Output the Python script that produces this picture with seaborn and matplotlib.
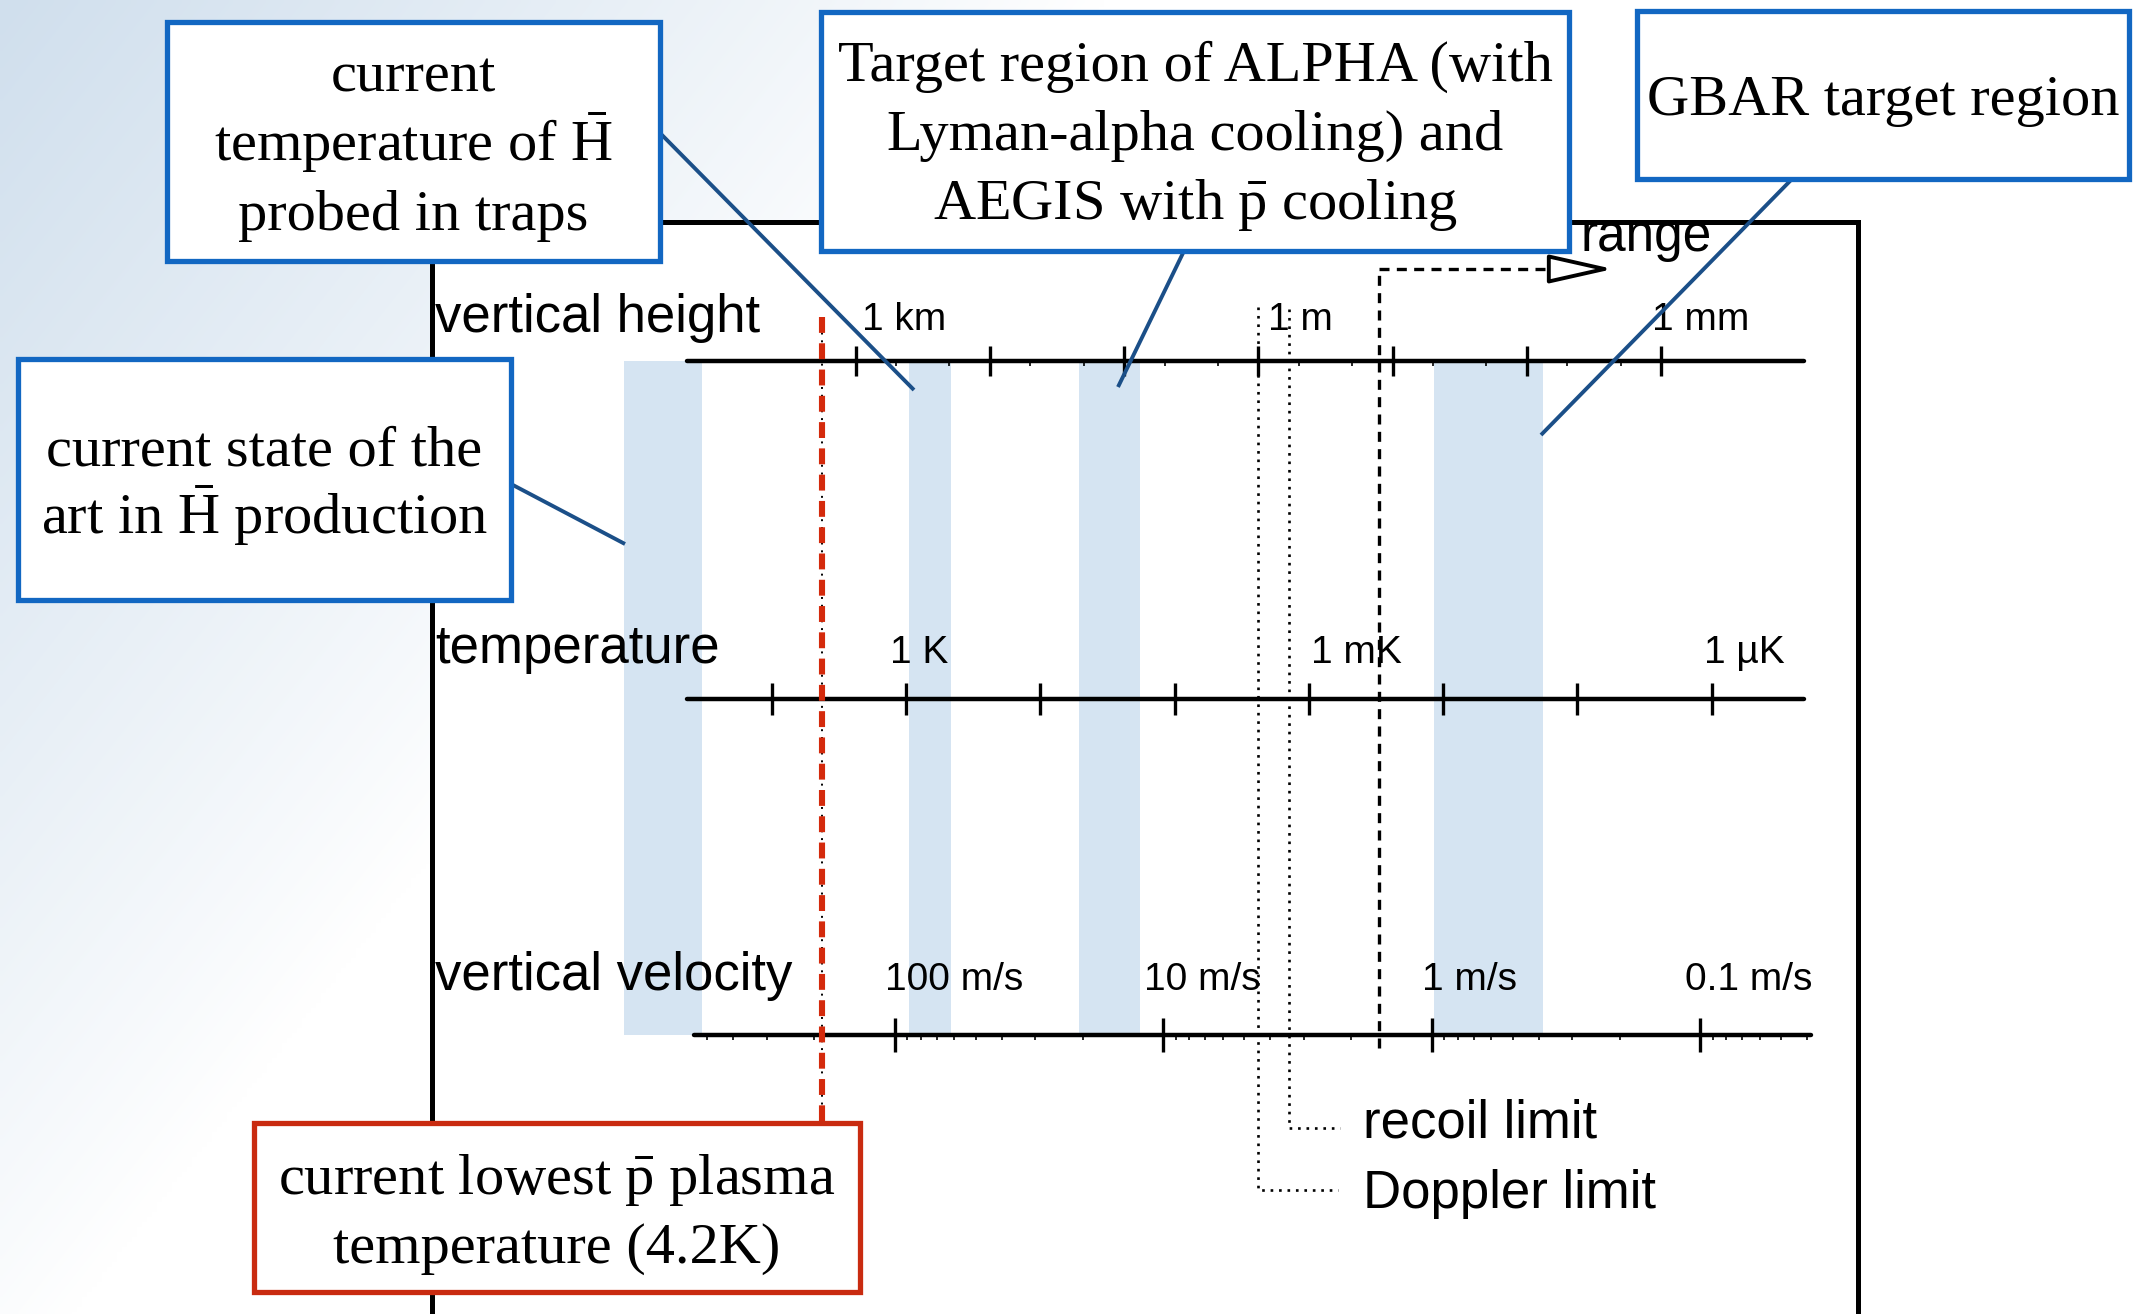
import numpy as np
import pandas as pd
import matplotlib
matplotlib.use("Agg")
import matplotlib.pyplot as plt
from matplotlib.patches import Rectangle, FancyArrowPatch
import seaborn as sns

# ---------------------------------------------------------------------------
# Physics: one horizontal axis shared by three quantities of a hydrogen atom.
# T = m v^2 / k_B   and   h = v^2 / (2 g)
# ---------------------------------------------------------------------------
M_H = 1.6735e-27      # kg
K_B = 1.380649e-23    # J/K
G_ACC = 9.81          # m/s^2

height_ticks_m = [1000, 100, 10, 1, 0.1, 0.01, 0.001]
height_tick_labels = ["1 km", "", "", "1 m", "", "", "1 mm"]

temp_ticks_K = [10, 1, 0.1, 0.01, 1e-3, 1e-4, 1e-5, 1e-6]
temp_tick_labels = ["", "1 K", "", "", "1 mK", "", "", "1 µK"]

vel_ticks_ms = [100, 10, 1, 0.1]
vel_tick_labels = ["100 m/s", "10 m/s", "1 m/s", "0.1 m/s"]

# shaded temperature windows (upper edge, lower edge) in K
band_T_upper = [126, 0.95, 0.052, 1.17e-4]
band_T_lower = [33, 0.46, 0.018, 1.8e-5]

plasma_T = 4.2        # lowest pbar plasma temperature
doppler_T = 2.4e-3    # Lyman-alpha Doppler limit
recoil_T = 1.4e-3     # recoil limit
range_T = 0.3e-3      # start of the "range" marker


def v_from_T(T):
    return np.sqrt(K_B * np.asarray(T, float) / M_H)


def v_from_h(h):
    return np.sqrt(2 * G_ACC * np.asarray(h, float))


# ---------------------------------------------------------------------------
# Canvas
# ---------------------------------------------------------------------------
W, H = 2143, 1314
DPI = 100
LOGV_LEFT = 5.333        # log10(v) at the left edge of the canvas
PX_PER_DEC = 268.5       # pixels per decade of velocity


def v_at_px(px):
    return 10 ** (LOGV_LEFT - px / PX_PER_DEC)


sns.set_theme(style="white")
plt.rcParams["font.family"] = ["Liberation Sans", "DejaVu Sans"]
plt.rcParams["text.color"] = "black"
plt.rcParams["mathtext.fontset"] = "custom"
plt.rcParams["mathtext.rm"] = "Liberation Serif"
plt.rcParams["mathtext.it"] = "Liberation Serif:italic"

SERIF = ["Liberation Serif", "DejaVu Serif"]
SANS = ["Liberation Sans", "DejaVu Sans"]

BAND = "#d5e4f2"
BOX_BLUE = "#1267c2"
LEADER = "#1b4f88"
RED = "#d42a0c"
BOX_RED = "#c92b10"

fig = plt.figure(figsize=(W / DPI, H / DPI), dpi=DPI)
bg = fig.add_axes([0, 0, 1, 1], zorder=0)
ax = fig.add_axes([0, 0, 1, 1], zorder=1)
fg = fig.add_axes([0, 0, 1, 1], zorder=2)

# soft blue wash in the background
gx, gy = np.meshgrid(np.linspace(0, W, 430), np.linspace(0, H, 264))
wash = np.clip(1 - gx / 1100 - gy / 1400, 0, 1) ** 0.9
tint = np.array([208, 223, 237]) / 255
img = 1 - wash[..., None] * (1 - tint)
bg.imshow(img, extent=[0, W, H, 0], aspect="auto", interpolation="bilinear")

# frame of the scale diagram
bg.add_patch(Rectangle((432, 222), 1858 - 432, 1400 - 222, fc="white",
                       ec="black", lw=3.6, zorder=2))

for a in (bg, fg):
    a.set_xlim(0, W)
    a.set_ylim(H, 0)
    a.axis("off")

ax.set_xscale("log")
ax.set_xlim(v_at_px(0), v_at_px(W))
ax.set_ylim(H, 0)
ax.axis("off")

# ---------------------------------------------------------------------------
# Shaded regions
# ---------------------------------------------------------------------------
Y_H, Y_T, Y_V = 361, 699, 1035
for hi, lo in zip(band_T_upper, band_T_lower):
    ax.fill_betweenx([Y_H, Y_V], v_from_T(hi), v_from_T(lo),
                     color=BAND, lw=0, zorder=1)

# ---------------------------------------------------------------------------
# The three scales
# ---------------------------------------------------------------------------
scales = [
    dict(y=Y_H, span=(687, 1804), ticks=v_from_h(height_ticks_m),
         labels=height_tick_labels, up=15, down=15, dy=31,
         dx=[6, 0, 0, 10, 0, 0, -9],
         minor=v_from_h([m * 10.0 ** d for d in range(-3, 3) for m in (2, 5)])),
    dict(y=Y_T, span=(687, 1804), ticks=v_from_T(temp_ticks_K),
         labels=temp_tick_labels, up=16, down=16, dy=36,
         dx=[0, -16, 0, 0, 2, 0, 0, -8], minor=None),
    dict(y=Y_V, span=(694, 1811), ticks=np.asarray(vel_ticks_ms, float),
         labels=vel_tick_labels, up=17, down=17, dy=45,
         dx=[-10, -19, -10, -15],
         minor=np.array([m * 10.0 ** d for d in range(-2, 3) for m in range(2, 10)])),
]

for sc in scales:
    x0, x1 = v_at_px(sc["span"][0]), v_at_px(sc["span"][1])
    line_df = pd.DataFrame({"v": [x0, x1], "y": [sc["y"], sc["y"]]})
    sns.lineplot(data=line_df, x="v", y="y", ax=ax, color="black", lw=3.2,
                 zorder=3, sort=False)
    ax.vlines(sc["ticks"], sc["y"] - sc["up"], sc["y"] + sc["down"],
              color="black", lw=2.4, zorder=3)
    if sc["minor"] is not None:
        mv = sc["minor"][(sc["minor"] < x0) & (sc["minor"] > x1)]
        ax.vlines(mv, sc["y"], sc["y"] + 5, color="black", lw=1.2, zorder=3)
    for v, lab, dx in zip(sc["ticks"], sc["labels"], sc["dx"]):
        if lab:
            ax.annotate(lab, xy=(v, sc["y"]), xytext=(dx, sc["dy"]),
                        textcoords="offset pixels", ha="left", va="baseline",
                        fontsize=28, family=SANS, color="black", zorder=4)

# ---------------------------------------------------------------------------
# Limits and markers
# ---------------------------------------------------------------------------
v_pl = v_from_T(plasma_T)
ax.plot([v_pl, v_pl], [317, 1123], color="black", lw=1.4,
        ls=(0, (1, 3)), zorder=5)
ax.plot([v_pl, v_pl], [317, 1123], color=RED, lw=4.4,
        ls=(0, (2.6, 1.7)), zorder=6)

v_dop = v_from_T(doppler_T)
v_rec = v_from_T(recoil_T)
dot = (0, (1, 2.2))
ax.plot([v_dop, v_dop, v_at_px(1338)], [307, 1190, 1190], color="black",
        lw=1.9, ls=dot, zorder=5)
ax.plot([v_rec, v_rec, v_at_px(1340)], [309, 1128, 1128], color="black",
        lw=1.9, ls=dot, zorder=5)

v_rg = v_from_T(range_T)
ax.plot([v_rg, v_rg], [1048, 269], color="black", lw=2.4,
        ls=(0, (3, 2.2)), zorder=5)
ax.plot([v_rg, v_at_px(1566)], [269, 269], color="black", lw=2.4,
        ls=(0, (3, 2.2)), zorder=5)
ax.add_patch(FancyArrowPatch((v_at_px(1552), 269), (v_at_px(1616), 269),
                             arrowstyle="-|>,head_length=2.0,head_width=0.45",
                             mutation_scale=20, fc="white", ec="black",
                             lw=2.8, zorder=6))

# ---------------------------------------------------------------------------
# Labels of the scales
# ---------------------------------------------------------------------------
for txt, yb in [("vertical height", 332), ("temperature", 663),
                ("vertical velocity", 990)]:
    fg.text(435, yb, txt, fontsize=38, family=SANS, ha="left",
            va="baseline", color="black", zorder=3)
fg.text(1580, 251, "range", fontsize=37, family=SANS, ha="left",
        va="baseline", color="black", zorder=1)
fg.text(1363, 1137, "recoil limit", fontsize=38, family=SANS, ha="left",
        va="baseline", color="black")
fg.text(1363, 1208, "Doppler limit", fontsize=38, family=SANS, ha="left",
        va="baseline", color="black")

# ---------------------------------------------------------------------------
# Call-out boxes
# ---------------------------------------------------------------------------
leaders = [((660, 133), (914, 390)),
           ((1184, 251), (1118, 387)),
           ((1792, 179), (1541, 435)),
           ((511, 484), (625, 544))]
for (xa, ya), (xb, yb) in leaders:
    fg.plot([xa, xb], [ya, yb], color=LEADER, lw=2.8, zorder=4,
            solid_capstyle="butt")

LINE_STEP = 69   # baseline-to-baseline distance inside the boxes (px)
boxes = [
    ((167, 22, 660, 261), 92,
     ["current", "temperature of $\\bar{\\mathrm{H}}$", "probed in traps"], BOX_BLUE),
    ((821, 12, 1569, 251), 81,
     ["Target region of ALPHA (with", "Lyman-alpha cooling) and",
      "AEGIS with $\\bar{\\mathrm{p}}$ cooling"], BOX_BLUE),
    ((1637, 11, 2129, 179), 115, ["GBAR target region"], BOX_BLUE),
    ((18, 359, 511, 600), 465,
     ["current state of the", "art in $\\bar{\\mathrm{H}}$ production"], BOX_BLUE),
    ((254, 1123, 860, 1292), 1194,
     ["current lowest $\\bar{\\mathrm{p}}$ plasma", "temperature (4.2K)"], BOX_RED),
]
for (x0, y0, x1, y1), base, lines, col in boxes:
    fg.add_patch(Rectangle((x0, y0), x1 - x0, y1 - y0, fc="white", ec=col,
                           lw=3.8, zorder=5))
    for i, line in enumerate(lines):
        fg.text((x0 + x1) / 2, base + i * LINE_STEP, line, fontsize=42,
                family=SERIF, ha="center", va="baseline", color="black",
                zorder=6)

fig.savefig("out.png", dpi=DPI)
